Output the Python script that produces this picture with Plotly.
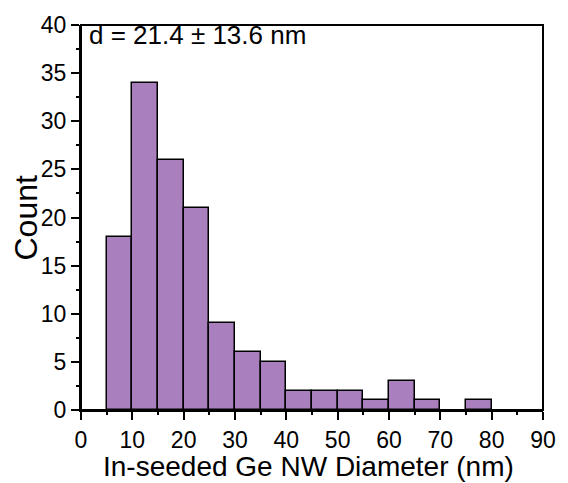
import plotly.graph_objects as go

bin_left = [5, 10, 15, 20, 25, 30, 35, 40, 45, 50, 55, 60, 65, 70, 75]
counts = [18, 34, 26, 21, 9, 6, 5, 2, 2, 2, 1, 3, 1, 0, 1]
bin_width = 5
x_ticks = [0, 10, 20, 30, 40, 50, 60, 70, 80, 90]
y_ticks = [0, 5, 10, 15, 20, 25, 30, 35, 40]

centers = [b + bin_width / 2 for b in bin_left]
line_widths = [1.5 if c > 0 else 0 for c in counts]
x_minor = [(a + b) / 2 for a, b in zip(x_ticks[:-1], x_ticks[1:])]
y_minor = [(a + b) / 2 for a, b in zip(y_ticks[:-1], y_ticks[1:])]

fig = go.Figure()
fig.add_trace(go.Bar(
    x=centers, y=counts, width=[bin_width] * len(centers),
    marker=dict(color="#A97FBE", line=dict(color="black", width=line_widths)),
))
fig.add_trace(go.Scatter(x=[None], y=[None], xaxis="x2", yaxis="y2",
                         showlegend=False, hoverinfo="skip"))

font = "Liberation Sans, Arial, sans-serif"
axis_common = dict(
    showline=True, linecolor="black", linewidth=2, mirror=False,
    ticks="outside", ticklen=8, tickwidth=2, tickcolor="black",
    showgrid=False, zeroline=False,
    tickfont=dict(family=font, size=23, color="black"),
)
minor_common = dict(
    showline=False, ticks="outside", ticklen=4, tickwidth=2, tickcolor="black",
    showgrid=False, zeroline=False, showticklabels=False,
)
fig.update_layout(
    xaxis=dict(range=[0, 90], tickvals=x_ticks, **axis_common),
    yaxis=dict(range=[0, 40], tickvals=y_ticks, **axis_common),
    xaxis2=dict(range=[0, 90], tickvals=x_minor, overlaying="x", anchor="y", side="bottom", **minor_common),
    yaxis2=dict(range=[0, 40], tickvals=y_minor, overlaying="y", anchor="x", side="left", **minor_common),
)
# box frame (top/right without ticks)
fig.add_shape(type="rect", xref="paper", yref="paper", x0=0, y0=0, x1=1, y1=1,
              line=dict(color="black", width=2), layer="above")
fig.add_annotation(x=0, y=1, xref="paper", yref="paper", xanchor="left", yanchor="top",
                   text="d = 21.4 ± 13.6 nm", showarrow=False, xshift=6, yshift=7,
                   font=dict(family=font, size=26, color="black"))
fig.add_annotation(x=0.5, y=0, xref="paper", yref="paper", xanchor="center", yanchor="bottom",
                   text="In-seeded Ge NW Diameter (nm)", showarrow=False, yshift=-73, xshift=-4,
                   borderpad=0,
                   font=dict(family=font, size=28, color="black"))
fig.add_annotation(x=0, y=0.5, xref="paper", yref="paper", xanchor="center", yanchor="middle",
                   text="Count", showarrow=False, textangle=-90, xshift=-56,
                   font=dict(family=font, size=32, color="black"))
fig.update_layout(width=568, height=483, margin=dict(l=81, r=20, t=21, b=73),
                  plot_bgcolor="white", paper_bgcolor="white", showlegend=False, bargap=0)
fig.write_html("out.html")
